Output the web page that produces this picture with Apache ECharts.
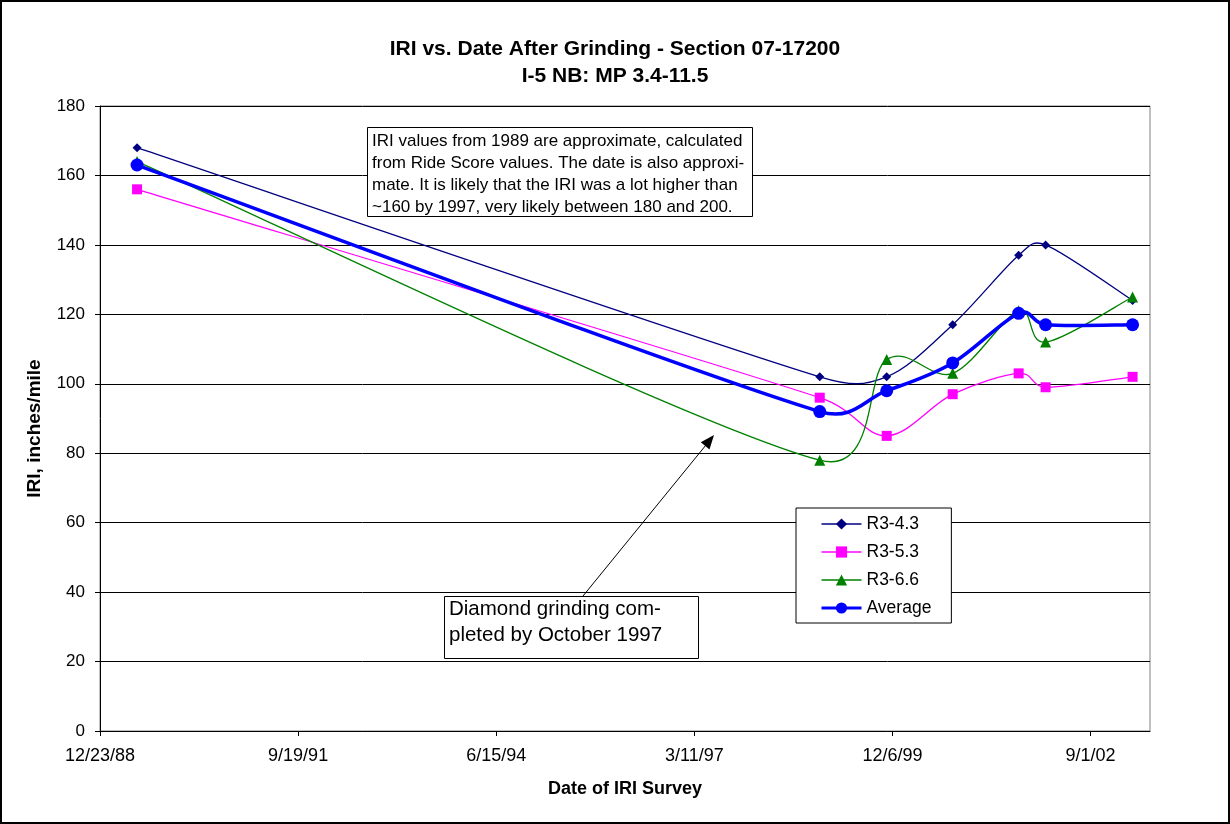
<!DOCTYPE html>
<html>
<head>
<meta charset="utf-8">
<script src="https://cdn.jsdelivr.net/npm/echarts@6/dist/echarts.min.js"></script>
<style>
html,body{margin:0;padding:0;background:#fff;}
#wrap{width:1230px;height:824px;position:relative;}
#chart{position:absolute;left:0;top:0;width:1230px;height:824px;}
#frame{position:absolute;left:0;top:0;width:1230px;height:824px;box-sizing:border-box;border:2px solid #000;pointer-events:none;}
</style>
</head>
<body>
<div id="wrap"><div id="chart"></div><div id="frame"></div></div>
<script>
// Survey dates
const surveyDates = ['1989-06-28','1998-12-04','1999-11-07','2000-10-05','2001-09-03','2002-01-17','2003-04-01'];
// Series values (IRI, inches/mile)
const r343 = [168, 102, 102, 117, 137, 140, 124];
const r353 = [156, 96, 85, 97, 103, 99, 102];
const r366 = [164, 78, 107, 103, 121, 112, 125];
const avg  = [163, 92, 98, 106, 120.3, 117, 117];
const seriesNames = ['R3-4.3','R3-5.3','R3-6.6','Average'];
const seriesColors = ['#000080','#FF00FF','#008000','#0000FF'];
// Axis origin date (first tick label 12/23/88), ticks every 1000 days
const axisOrigin = Date.UTC(1988, 11, 23);
const DAY = 86400000;

function toDays(s){ const p = s.split('-').map(Number); return (Date.UTC(p[0], p[1]-1, p[2]) - axisOrigin) / DAY; }
function fmt(v){ const d = new Date(axisOrigin + v*DAY); return (d.getUTCMonth()+1)+'/'+d.getUTCDate()+'/'+String(d.getUTCFullYear()).slice(2); }
function pairs(vals){ return surveyDates.map((s,i)=>[toDays(s), vals[i]]); }

const FONT = '"Liberation Sans", Arial, sans-serif';

// Excel-style smoothed line drawn through the axis scales (api.coord)
function curveSeries(name, vals, color, width){
  const pts = pairs(vals);
  return {
    name: name + ' curve', type: 'custom', silent: true, z: 2,
    data: pts, encode: {x: 0, y: 1},
    renderItem: function(params, api){
      const i = params.dataIndex;
      if (i >= pts.length - 1) return null;
      const P = pts.map(p => api.coord(p));
      const p0 = P[Math.max(i-1, 0)], p1 = P[i], p2 = P[i+1], p3 = P[Math.min(i+2, P.length-1)];
      const seg = Math.hypot(p2[0]-p1[0], p2[1]-p1[1]);
      function tan(a, b){
        let tx = (b[0]-a[0])/6, ty = (b[1]-a[1])/6;
        const L = Math.hypot(tx, ty), lim = 0.5*seg;
        if (L > lim && L > 0){ tx *= lim/L; ty *= lim/L; }
        return [tx, ty];
      }
      const t1 = tan(p0, p2), t2 = tan(p1, p3);
      return {type: 'bezierCurve',
        shape: {x1: p1[0], y1: p1[1], x2: p2[0], y2: p2[1],
                cpx1: p1[0]+t1[0], cpy1: p1[1]+t1[1], cpx2: p2[0]-t2[0], cpy2: p2[1]-t2[1]},
        style: {stroke: color, lineWidth: width, fill: null}};
    }
  };
}
function markerSeries(name, vals, color, symbol, size){
  return {name: name, type: 'line', z: 2, data: pairs(vals), symbol: symbol, symbolSize: size,
    showAllSymbol: true, lineStyle: {opacity: 0}, itemStyle: {color: color}};
}

const chart = echarts.init(document.getElementById('chart'), null, {renderer: 'canvas'});
const option = {
  animation: false,
  backgroundColor: '#fff',
  title: {
    text: 'IRI vs. Date After Grinding - Section 07-17200\nI-5 NB: MP 3.4-11.5',
    left: 'center', top: 31,
    textStyle: {fontFamily: FONT, fontSize: 21, fontWeight: 'bold', color: '#000', lineHeight: 27}
  },
  grid: {left: 100, right: 80, top: 106, bottom: 93, show: true, borderColor: '#808080', borderWidth: 1, outerBoundsMode: 'none', containLabel: false},
  legend: {
    orient: 'vertical', left: 796, top: 508,
    backgroundColor: '#fff', borderColor: '#000', borderWidth: 1,
    padding: [7, 20, 6, 24], itemGap: 10, itemWidth: 40, itemHeight: 14,
    textStyle: {fontFamily: FONT, fontSize: 17.5, color: '#000'},
    data: seriesNames.map((n, i) => ({name: n, lineStyle: {color: seriesColors[i], width: i === 3 ? 3 : 1.3, opacity: 1}}))
  },
  xAxis: {
    type: 'value', min: 0, max: 5300, interval: 1000,
    name: 'Date of IRI Survey', nameLocation: 'middle', nameGap: 49,
    nameTextStyle: {fontFamily: FONT, fontSize: 18, fontWeight: 'bold', color: '#000'},
    axisLine: {show: true, onZero: false, lineStyle: {color: '#000', width: 1}},
    axisTick: {show: true, length: 5, inside: false, lineStyle: {color: '#000'}},
    axisLabel: {fontFamily: FONT, fontSize: 18, color: '#000', margin: 16, formatter: fmt, showMaxLabel: false},
    splitLine: {show: false}
  },
  yAxis: {
    type: 'value', min: 0, max: 180, interval: 20,
    name: 'IRI, inches/mile', nameLocation: 'middle', nameGap: 56, nameRotate: 90,
    nameTextStyle: {fontFamily: FONT, fontSize: 19, fontWeight: 'bold', color: '#000', padding: [0, 20, 0, 0]},
    axisLine: {show: true, lineStyle: {color: '#000', width: 1}},
    axisTick: {show: true, length: 5, lineStyle: {color: '#000'}},
    axisLabel: {fontFamily: FONT, fontSize: 17, color: '#000', margin: 15},
    splitLine: {show: true, lineStyle: {color: '#000', width: 1}}
  },
  series: [
    curveSeries('R3-4.3', r343, seriesColors[0], 1.3),
    markerSeries('R3-4.3', r343, seriesColors[0], 'diamond', 9),
    curveSeries('R3-5.3', r353, seriesColors[1], 1.3),
    markerSeries('R3-5.3', r353, seriesColors[1], 'rect', 10),
    curveSeries('R3-6.6', r366, seriesColors[2], 1.3),
    markerSeries('R3-6.6', r366, seriesColors[2], 'triangle', 11),
    curveSeries('Average', avg, seriesColors[3], 3.5),
    markerSeries('Average', avg, seriesColors[3], 'circle', 13)
  ],
  graphic: [
    {type: 'rect', left: 367, top: 127, z: 100, shape: {width: 385, height: 89},
     style: {fill: '#fff', stroke: '#000', lineWidth: 1}},
    {type: 'text', left: 372, top: 130, z: 101,
     style: {text: 'IRI values from 1989 are approximate, calculated\nfrom Ride Score values. The date is also approxi-\nmate. It is likely that the IRI was a lot higher than\n~160 by 1997, very likely between 180 and 200.',
       font: '17px ' + FONT, fill: '#000', lineHeight: 22}},
    {type: 'rect', left: 444, top: 596, z: 100, shape: {width: 254, height: 62},
     style: {fill: '#fff', stroke: '#000', lineWidth: 1}},
    {type: 'text', left: 449, top: 596, z: 101,
     style: {text: 'Diamond grinding com-\npleted by October 1997', font: '20.5px ' + FONT, fill: '#000', lineHeight: 26}},
    {type: 'line', z: 102, shape: {x1: 583, y1: 596, x2: 706, y2: 445}, style: {stroke: '#000', lineWidth: 1}},
    {type: 'polygon', z: 102, shape: {points: [[714, 435], [709.5, 449.5], [700.8, 442.3]]}, style: {fill: '#000'}}
  ]
};
chart.setOption(option);
</script>
</body>
</html>
